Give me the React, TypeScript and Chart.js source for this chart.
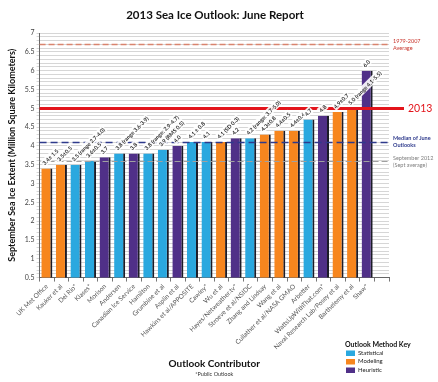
import React, { useEffect, useRef } from "react";
import { Chart, registerables } from "chart.js";

Chart.register(...registerables);

const contributors = [
  "UK Met Office", "Kauker et al", "Del Rio*", "Klases*", "Morison", "Andersen",
  "Canadian Ice Service", "Hamilton", "Grumbine et al", "Asplin et al",
  "Hawkins et al/APPOSITE", "Cawley*", "Wu et al", "Hayes/Netweather.tv*",
  "Stroeve et al/NSIDC", "Zhang and Lindsay", "Wang et al", "Cullather et al/NASA GMAO",
  "Arbetter", "WattsUpWithThat.com*", "Naval Research Lab/Posey et al",
  "Barthelemy et al", "Shaw*",
];
const extents = [
  3.4, 3.5, 3.5, 3.6, 3.7, 3.8, 3.8, 3.8, 3.9, 4.0, 4.1, 4.1, 4.1, 4.2, 4.2,
  4.3, 4.4, 4.4, 4.7, 4.8, 4.9, 5.0, 6.0,
];
// S = Statistical, M = Modeling, H = Heuristic
const methods = [
  "M", "M", "S", "S", "H", "S", "H", "S", "S", "H", "S", "S", "M", "H", "S",
  "M", "M", "M", "S", "H", "M", "M", "H",
];
const valueLabels = [
  "3.4± 1.5", "3.5±0.5", "3.5 (range 2.7-4.0)", "3.6±0.5", "3.7",
  "3.8 (range 3.6-3.9)", "3.8", "3.8 (range: 2.9-4.7)", "3.9 (RMS 0.5)", "4.0",
  "4.1 ± 0.8", "4.1", "4.1 (SD 0.3)", "4.2", "4.2 (range: 3.7-5.0)", "4.3±0.8",
  "4.4±0.5", "4.4±0.4", "4.7", "4.8", "4.9±0.7", "5.0 (range 4.1-5.5)", "6.0",
];
const methodNames = ["Statistical", "Modeling", "Heuristic"];
const methodKeys = ["S", "M", "H"];
const methodColors: Record<string, string> = { S: "#2AA8DF", M: "#F7861E", H: "#503088" };

const avg1979to2007 = 6.7;
const outlook2013 = 5.0;
const juneMedian = 4.1;
const sept2012 = 3.6;

const yMin = 0.5;
const yMax = 7;
const yStep = 0.1;
const yLabelStep = 0.5;

const chartTitle = "2013 Sea Ice Outlook: June Report";

const FONT = "Lato, 'Open Sans', sans-serif";

const overlayPlugin = {
  id: "overlay",
  afterDatasetsDraw(chart: any) {
    const { ctx, chartArea: ca, scales } = chart;
    const y = scales.y;
    const hline = (v: number, color: string, width: number, dash: number[], xEnd: number) => {
      const py = Math.round(y.getPixelForValue(v)) + (width % 2 ? 0.5 : 0);
      ctx.save();
      ctx.strokeStyle = color;
      ctx.lineWidth = width;
      ctx.setLineDash(dash);
      ctx.beginPath();
      ctx.moveTo(ca.left, py);
      ctx.lineTo(xEnd, py);
      ctx.stroke();
      ctx.restore();
      return py;
    };
    const pAvg = hline(avg1979to2007, "#D9846E", 1.5, [6, 3], ca.right);
    const pSept = hline(sept2012, "#A0A0A0", 1, [6, 3], ca.right);
    const pMed = hline(juneMedian, "#2E3A8C", 1.5, [7, 4], ca.right);
    const p2013 = hline(outlook2013, "#E3141B", 3, [], ca.right + 15);

    // right side annotations
    ctx.save();
    ctx.textBaseline = "middle";
    ctx.textAlign = "left";
    const tx = ca.right + 4;
    ctx.font = `5.5px ${FONT}`;
    ctx.fillStyle = "#C8342B";
    ctx.fillText("1979-2007", tx, pAvg - 3);
    ctx.fillText("Average", tx, pAvg + 4);
    ctx.font = `bold 5.5px ${FONT}`;
    ctx.fillStyle = "#2E3A8C";
    ctx.fillText("Median of June", tx, pMed - 4);
    ctx.fillText("Outlooks", tx, pMed + 3);
    ctx.font = `5.5px ${FONT}`;
    ctx.fillStyle = "#808080";
    ctx.fillText("September 2012", tx, pSept - 3);
    ctx.fillText("(Sept average)", tx, pSept + 4);
    ctx.font = `10.5px ${FONT}`;
    ctx.fillStyle = "#E3141B";
    ctx.fillText("2013", ca.right + 19, p2013);
    ctx.restore();

    // value labels
    const meta = chart.getDatasetMeta(0);
    ctx.save();
    ctx.font = `bold 5.5px ${FONT}`;
    meta.data.forEach((bar: any, i: number) => {
      const text = valueLabels[i];
      if (!text) return;
      ctx.save();
      ctx.translate(bar.x - 2, bar.y - 3);
      ctx.rotate(-Math.PI / 4);
      const w = ctx.measureText(text).width;
      ctx.fillStyle = "rgba(255,255,255,0.9)";
      ctx.fillRect(-1, -6, w + 2, 7.5);
      ctx.fillStyle = "#2a2a2a";
      ctx.textBaseline = "alphabetic";
      ctx.fillText(text, 0, 0);
      ctx.restore();
    });
    ctx.restore();
  },
  afterDraw(chart: any) {
    const { ctx } = chart;
    ctx.save();
    // title
    ctx.textAlign = "center";
    ctx.textBaseline = "middle";
    ctx.fillStyle = "#111";
    ctx.font = `bold 11.5px ${FONT}`;
    ctx.fillText(chartTitle, 215, 15);
    // public outlook note
    const xs = chart.scales.x;
    ctx.fillStyle = "#333";
    ctx.font = `5.5px ${FONT}`;
    ctx.fillText("*Public Outlook", (xs.left + xs.right) / 2, 374);
    // legend key
    ctx.textAlign = "left";
    ctx.fillStyle = "#111";
    ctx.font = `bold 7px ${FONT}`;
    ctx.fillText("Outlook Method Key", 345, 345);
    ctx.font = `6px ${FONT}`;
    methodKeys.forEach((k, i) => {
      const yy = 353 + i * 8.5;
      ctx.fillStyle = methodColors[k];
      ctx.fillRect(346, yy - 2.5, 9, 5.5);
      ctx.fillStyle = "#222";
      ctx.fillText(methodNames[i], 358, yy);
    });
    ctx.restore();
  },
};

export default function App() {
  const ref = useRef<HTMLCanvasElement | null>(null);
  useEffect(() => {
    document.body.style.margin = "0";
    if (!ref.current) return;
    Chart.defaults.font.family = FONT;
    const labels = [...contributors, ""];
    const chart = new Chart(ref.current, {
      type: "bar",
      data: {
        labels,
        datasets: [
          {
            data: [...extents, null],
            backgroundColor: methods.map((m) => methodColors[m]),
            borderColor: "#1c1c28",
            borderWidth: { top: 0, left: 0, bottom: 0, right: 2 },
            borderSkipped: false,
            barPercentage: 0.76,
            categoryPercentage: 1,
          } as any,
        ],
      },
      options: {
        animation: false,
        responsive: true,
        maintainAspectRatio: false,
        layout: { padding: { left: 7, right: 49, top: 33, bottom: 10 } },
        plugins: {
          legend: { display: false },
          tooltip: { enabled: false },
          title: { display: false },
        },
        scales: {
          x: {
            grid: {
              display: true,
              drawOnChartArea: false,
              color: "#777",
              tickLength: 4,
              offset: true,
            },
            border: { color: "#666", width: 1 },
            ticks: {
              autoSkip: false,
              maxRotation: 45,
              minRotation: 45,
              color: "#555",
              font: { size: 6.5, family: FONT },
              padding: 1,
            },
            title: {
              display: true,
              text: "Outlook Contributor",
              color: "#111",
              font: { size: 10, weight: "bold", family: FONT },
              padding: { top: 6, bottom: 2 },
            },
          },
          y: {
            min: yMin,
            max: yMax,
            grid: { color: "#D6D6D6", lineWidth: 1, tickLength: 3 },
            border: { color: "#666", width: 1 },
            ticks: {
              stepSize: yStep,
              autoSkip: false,
              maxTicksLimit: 200,
              color: "#444",
              font: { size: 7, family: FONT },
              padding: 2,
              callback: (v: any) => {
                const n = Number(v);
                const r = n / yLabelStep;
                if (Math.abs(r - Math.round(r)) > 1e-6) return "";
                const q = Math.round(r) * yLabelStep;
                return Number.isInteger(q) ? String(q) : q.toFixed(1);
              },
            },
            title: {
              display: true,
              text: "September Sea Ice Extent (Million Square Kilometers)",
              color: "#111",
              font: { size: 9, weight: "bold", family: FONT },
              padding: { top: 0, bottom: 5 },
            },
          },
        },
      },
      plugins: [overlayPlugin],
    });
    return () => chart.destroy();
  }, []);
  return (
    <div style={{ position: "relative", width: 438, height: 382 }}>
      <canvas ref={ref} />
    </div>
  );
}
